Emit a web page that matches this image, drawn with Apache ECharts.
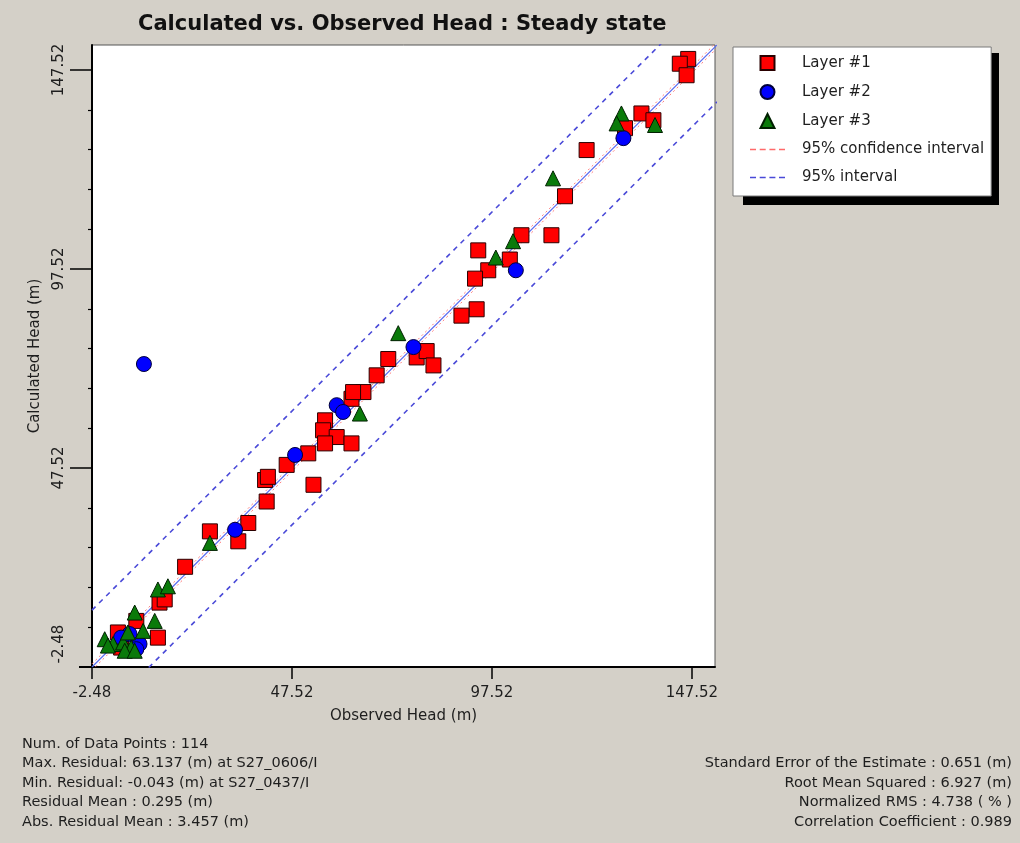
<!DOCTYPE html>
<html>
<head>
<meta charset="utf-8">
<script src="https://cdn.jsdelivr.net/npm/echarts@6/dist/echarts.min.js"></script>
<style>
html,body{margin:0;padding:0;background:#d4d0c8;}
#chart{width:1020px;height:843px;}
</style>
</head>
<body>
<div id="chart"></div>
<script>
// ---- data (observed, calculated) ----
const layer1 = [
  [146.6,150.3],[144.5,149.1],[146.2,146.2],[134.9,136.6],[137.9,134.9],[130.8,132.9],
  [121.2,127.4],[115.8,115.8],[104.9,106.0],[112.4,106.0],[94.1,102.2],[102.0,99.9],
  [96.6,97.2],[93.3,95.1],[93.7,87.4],[89.9,85.8],
  [71.6,74.9],[78.7,75.3],[81.2,76.9],[82.9,73.3],[68.7,70.8],[65.4,66.6],[62.4,64.9],
  [62.8,66.6],[55.8,59.5],[55.3,57.0],[58.7,55.3],[55.8,53.7],[62.4,53.7],[51.6,51.2],
  [46.2,48.3],[40.8,44.5],[41.5,45.3],[52.9,43.3],[41.2,39.1],[36.6,33.7],[27.0,31.6],
  [34.1,29.1],[20.8,22.7],
  [14.4,13.7],[15.7,14.5],[14.0,4.9],[8.6,9.1],[4.0,6.2],[4.8,2.4]
];
const layer2 = [
  [130.4,130.4],[103.5,97.2],[58.7,63.3],[60.3,61.6],[48.3,50.8],[77.9,77.9],
  [33.3,32.0],[6.9,5.8],[9.4,3.3],[8.6,2.0],[4.8,4.9],[10.5,73.64]
];
const layer3 = [
  [129.9,136.6],[128.7,134.1],[138.3,133.7],[112.8,120.3],[98.5,100.4],[102.8,104.5],
  [64.5,61.2],[74.1,81.4],[27.0,28.7],[14.0,17.0],[16.5,17.8],[8.2,11.2],[13.2,9.1],
  [10.3,6.6],[0.7,4.5],[2.8,3.3],[5.3,3.7],[7.3,2.4],[5.7,1.6],[8.2,1.6],[1.5,2.9],[6.5,6.2]
];
// reference lines (endpoints)
const bestFit = [[-2.48,-2.48],[153.8,153.8]];
const ciUpper = [[-2.48,-1.68],[153.8,154.6]];
const ciLower = [[-2.48,-3.28],[153.8,153.0]];
const piUpper = [[-2.48,11.82],[153.8,168.1]];
const piLower = [[-2.48,-16.78],[153.8,139.5]];
// axes
const axisMin = -2.48;
const xMax = 153.3;
const yMax = 153.8;
const tickLabels = [-2.48, 47.52, 97.52, 147.52];
const yMajorTicks = [47.52, 97.52, 147.52];
const yMinorTicks = [7.52,17.52,27.52,37.52,57.52,67.52,77.52,87.52,107.52,117.52,127.52,137.52];
// texts
const titleText = 'Calculated vs. Observed Head : Steady state';
const xName = 'Observed Head (m)';
const yName = 'Calculated Head (m)';
const legendNames = ['Layer #1','Layer #2','Layer #3','95% confidence interval','95% interval'];
const statsLeft = [
  'Num. of Data Points : 114',
  'Max. Residual: 63.137 (m) at S27_0606/I',
  'Min. Residual: -0.043 (m) at S27_0437/I',
  'Residual Mean : 0.295 (m)',
  'Abs. Residual Mean : 3.457 (m)'
];
const statsRight = [
  'Standard Error of the Estimate : 0.651 (m)',
  'Root Mean Squared : 6.927 (m)',
  'Normalized RMS : 4.738 ( % )',
  'Correlation Coefficient : 0.989'
];

const FONT = 'DejaVu Sans';
const TXT = '#1e1e1e';
const chart = echarts.init(document.getElementById('chart'), null, {renderer: 'canvas'});

const rowY = [744.5, 763.5, 783, 802, 822];
const graphics = [
  {type: 'rect', shape: {x: 743, y: 53, width: 256, height: 152}, style: {fill: '#000'}, z: 0}
];
statsLeft.forEach((t, i) => graphics.push({
  type: 'text', x: 22, y: rowY[i],
  style: {text: t, font: '14.5px "' + FONT + '"', fill: TXT, align: 'left', verticalAlign: 'middle'}
}));
statsRight.forEach((t, i) => graphics.push({
  type: 'text', x: 1012, y: rowY[i + 1],
  style: {text: t, font: '14.5px "' + FONT + '"', fill: TXT, align: 'right', verticalAlign: 'middle'}
}));

const dashIcon = 'path://M0,0h6v1.5h-6z M9.7,0h6v1.5h-6z M19.4,0h6v1.5h-6z M29,0h6v1.5h-6z';
const lineSeries = (name, data, color, type, width) => ({
  name: name, type: 'line', data: data, symbol: 'none', showSymbol: false,
  lineStyle: {color: color, type: type, width: width},
  itemStyle: {color: color}, clip: true, silent: true, z: 2
});

const option = {
  backgroundColor: '#d4d0c8',
  animation: false,
  title: {
    text: titleText, left: 133, top: 9,
    textStyle: {fontFamily: FONT, fontWeight: 'bold', fontSize: 21, color: '#111'}
  },
  legend: {
    orient: 'vertical', left: 733, top: 47,
    backgroundColor: '#ffffff', borderColor: '#7a7a7a', borderWidth: 1,
    padding: [8, 7, 11, 17],
    itemWidth: 35, itemHeight: 14, itemGap: 13,
    textStyle: {fontFamily: FONT, fontSize: 15, color: TXT, padding: [0, 0, 0, 12]},
    data: [
      {name: legendNames[0], icon: 'path://M0,0h10v10h-10z'},
      {name: legendNames[1], icon: 'circle'},
      {name: legendNames[2], icon: 'path://M5,0L10,10L0,10Z'},
      {name: legendNames[3], icon: dashIcon, itemStyle: {color: '#ff6a6a', borderWidth: 0}},
      {name: legendNames[4], icon: dashIcon, itemStyle: {color: '#4a4ad8', borderWidth: 0}}
    ],
    selectedMode: false
  },
  grid: {
    left: 92, top: 45, width: 623, height: 622,
    show: true, backgroundColor: '#ffffff', borderColor: '#555', borderWidth: 1,
    containLabel: false
  },
  xAxis: {
    type: 'value', min: axisMin, max: xMax, interval: 50,
    name: xName, nameLocation: 'middle', nameGap: 42,
    nameTextStyle: {fontFamily: FONT, fontSize: 15, color: TXT},
    axisLine: {onZero: false, lineStyle: {color: '#000', width: 2}},
    axisTick: {show: true, length: 12, customValues: tickLabels, lineStyle: {color: '#000', width: 1.5}},
    axisLabel: {customValues: tickLabels, margin: 19, fontFamily: FONT, fontSize: 15, color: TXT,
      formatter: v => v.toFixed(2)},
    splitLine: {show: false}
  },
  yAxis: [
    {
      type: 'value', position: 'left', min: axisMin, max: yMax, interval: 50,
      name: yName, nameLocation: 'middle', nameGap: 49, nameRotate: 90,
      nameTextStyle: {fontFamily: FONT, fontSize: 15, color: TXT},
      axisLine: {show: true, onZero: false, lineStyle: {color: '#000', width: 2}},
      axisTick: {show: true, length: 22, customValues: yMajorTicks, lineStyle: {color: '#000', width: 1.5}},
      axisLabel: {customValues: tickLabels, rotate: 90, margin: 25, fontFamily: FONT, fontSize: 15, color: TXT,
        formatter: v => (Math.abs(v - axisMin) < 1e-6 ? '{lo|' + v.toFixed(2) + '}' : v.toFixed(2)),
        rich: {lo: {fontFamily: FONT, fontSize: 15, color: TXT, padding: [0, 0, 0, 46]}}},
      splitLine: {show: false}
    },
    {
      type: 'value', position: 'left', min: axisMin, max: yMax,
      axisLine: {show: false, onZero: false}, axisLabel: {show: false}, splitLine: {show: false},
      axisTick: {show: true, length: 4, customValues: yMinorTicks, lineStyle: {color: '#000', width: 1.2}}
    },
    {
      type: 'value', position: 'left', min: axisMin, max: yMax,
      axisLine: {show: false, onZero: false}, axisLabel: {show: false}, splitLine: {show: false},
      axisTick: {show: true, length: 13, customValues: [axisMin], lineStyle: {color: '#000', width: 2}}
    }
  ],
  graphic: graphics,
  series: [
    lineSeries('95% interval', piUpper, '#4a4ad8', [5, 5], 1.6),
    lineSeries('95% interval', piLower, '#4a4ad8', [5, 5], 1.6),
    lineSeries('95% confidence interval', ciUpper, '#ff7a7a', [2, 3], 1),
    lineSeries('95% confidence interval', ciLower, '#ff7a7a', [2, 3], 1),
    {type: 'line', data: bestFit, symbol: 'none', showSymbol: false, silent: true, z: 2,
      lineStyle: {color: '#5b6cf0', width: 1.2}, itemStyle: {color: '#5b6cf0'}},
    {name: legendNames[0], type: 'scatter', data: layer1, symbol: 'rect', symbolSize: 15, z: 3,
      itemStyle: {color: '#ff0000', borderColor: '#2a0000', borderWidth: 1, opacity: 1}},
    {name: legendNames[1], type: 'scatter', data: layer2, symbol: 'circle', symbolSize: 15, z: 3,
      itemStyle: {color: '#0000ff', borderColor: '#00003a', borderWidth: 1, opacity: 1}},
    {name: legendNames[2], type: 'scatter', data: layer3, symbol: 'triangle', symbolSize: 15, z: 3,
      itemStyle: {color: '#0a7a0a', borderColor: '#002000', borderWidth: 1, opacity: 1}}
  ]
};
chart.setOption(option);
</script>
</body>
</html>
